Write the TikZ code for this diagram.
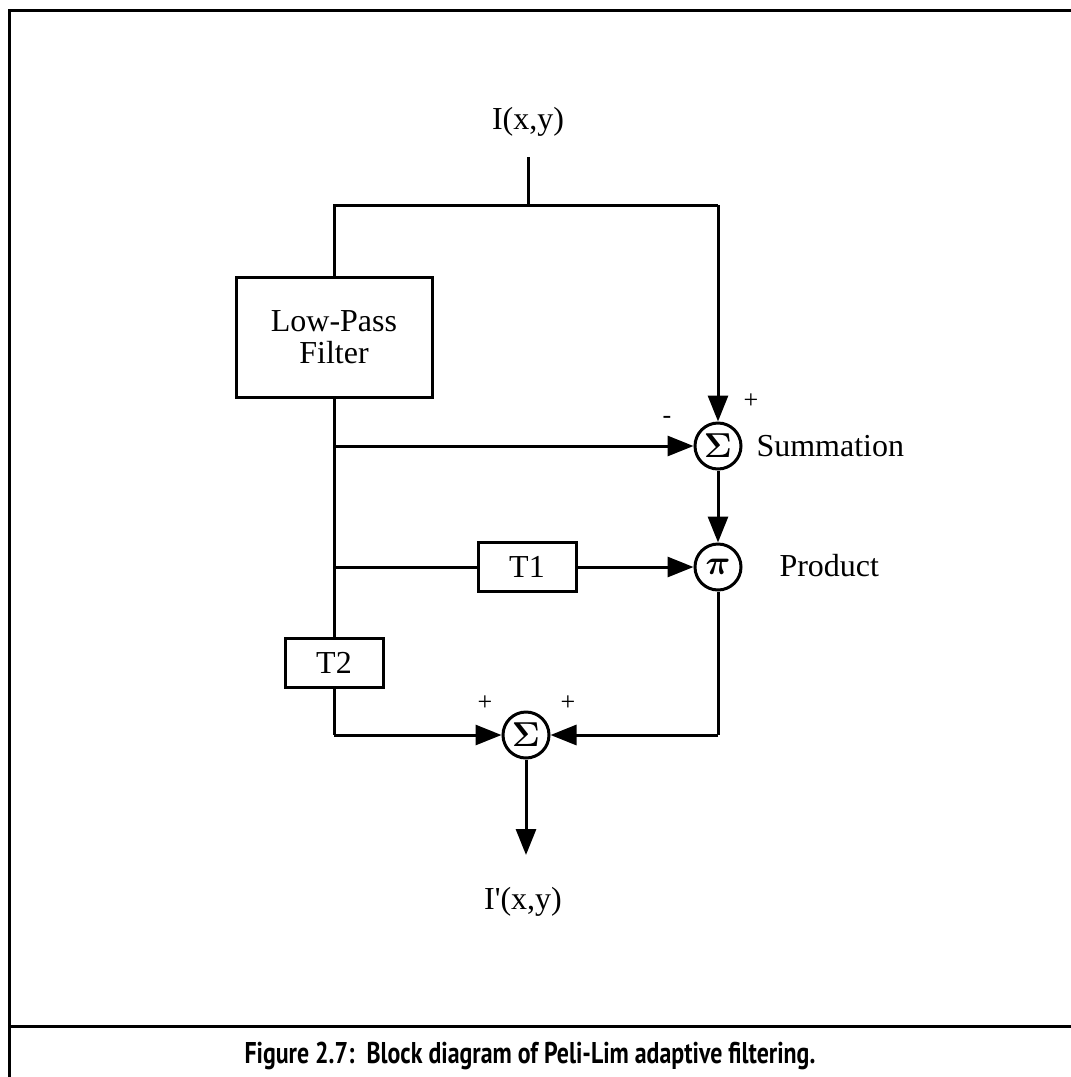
\documentclass[tikz,border=0pt]{standalone}
\usepackage{fontspec}
\usepackage{amsmath}
\setmainfont{Liberation Serif}
\newfontfamily\capfont{PT Sans}
\usetikzlibrary{arrows.meta}
\begin{document}
\begin{tikzpicture}[x=0.5pt,y=-0.5pt,
 line width=1.5pt,
 arr/.style={-{Triangle[length=13pt,width=10pt]}},
 blk/.style={draw,line width=1.5pt,minimum width=49pt,minimum height=24.5pt,inner sep=0pt,font=\fontsize{16}{16}\selectfont},
 junc/.style={draw,circle,line width=1.5pt,minimum size=23pt,inner sep=0pt,font=\fontsize{16}{16}\selectfont},
 lbl/.style={font=\fontsize{16}{17}\selectfont,inner sep=0pt},
 sgn/.style={font=\fontsize{13}{13}\selectfont,inner sep=0pt},
 capstyle/.style={font=\capfont\bfseries\fontsize{15}{15}\selectfont,inner sep=0pt}]
\useasboundingbox (0,0) rectangle (1071,1077);
% frame
\draw (9,1077) -- (9,10) -- (1071,10);
\draw (9,1026) -- (1071,1026);
% nodes
\node[lbl] (in) at (528,122) {I(x,y)};
\coordinate (inTop) at (528,157);
\coordinate (split) at (528,205);
\coordinate (tl) at (334,205);
\coordinate (tr) at (718,205);
\node[blk,minimum width=98pt,minimum height=60pt,align=center] (lpf) at (334,337) {Low-Pass\\[0pt]Filter};
\node[junc] (s1) at (718,446) {$\boldsymbol{\Sigma}$};
\node[junc] (p) at (718,567) {$\boldsymbol{\pi}$};
\node[blk] (t1) at (527,567) {T1};
\node[blk] (t2) at (334,663) {T2};
\node[junc] (s2) at (526,735) {$\boldsymbol{\Sigma}$};
\coordinate (b1) at (334,446);
\coordinate (b2) at (334,567);
\coordinate (bl) at (334,735);
\coordinate (br) at (718,735);
\coordinate (outEnd) at (526,855);
\node[lbl] (out) at (523,902) {I\textquotesingle(x,y)};
% labels
\node[sgn] (pl1) at (751,401) {+};
\node[sgn] (mi1) at (667,420) {-};
\node[lbl,anchor=west] (summ) at (755,446) {Summation};
\node[lbl,anchor=west] (prod) at (778,566) {Product};
\node[sgn] (pl2) at (485,703) {+};
\node[sgn] (pl3) at (568,703) {+};
% connectors
\draw (inTop) -- (split);
\draw (lpf.north) -- (tl) -- (tr);
\draw[arr] (tr) -- (s1.north);
\draw (lpf.south) -- (t2.north);
\draw[arr] (b1) -- (s1.west);
\draw (b2) -- (t1.west);
\draw[arr] (t1.east) -- (p.west);
\draw[arr] (s1.south) -- (p.north);
\draw (p.south) -- (br);
\draw[arr] (br) -- (s2.east);
\draw (t2.south) -- (bl);
\draw[arr] (bl) -- (s2.west);
\draw[arr] (s2.south) -- (outEnd);
% caption
\node[capstyle,anchor=base west] (cap) at (243,1063) {\scalebox{0.795}[1]{Figure 2.7:\ \ Block diagram of Peli-Lim adaptive filtering.}};
\end{tikzpicture}
\end{document}
